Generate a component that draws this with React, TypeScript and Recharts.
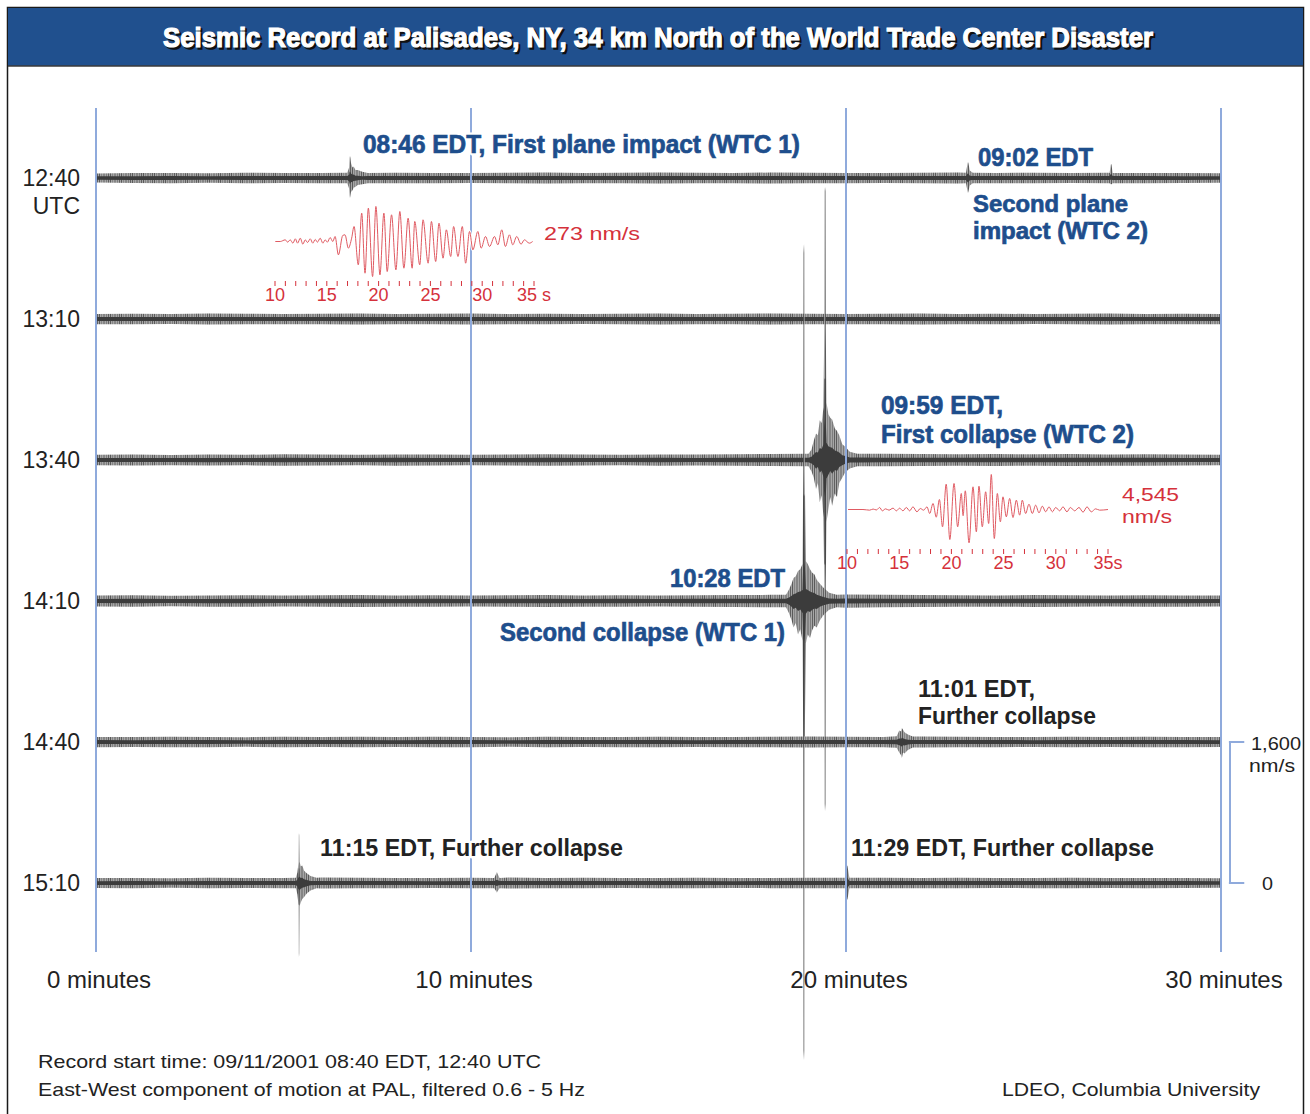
import React from "react";
import { ComposedChart, Area, XAxis, YAxis, ReferenceLine, LineChart, Line } from "recharts";

// one row per 30 minutes of record, top to bottom (UTC start time)
const TRACE_LABELS = ["12:40", "13:10", "13:40", "14:10", "14:40", "15:10"];
const TRACE_SPACING = 1600; // nm/s between rows, same as the scale bar
const MINUTE_TICKS = [0, 10, 20, 30];
const SCALE_BAR = [0, 1600];
const SEC_TICKS = [10, 11, 12, 13, 14, 15, 16, 17, 18, 19, 20, 21, 22, 23, 24, 25, 26, 27, 28, 29, 30, 31, 32, 33, 34, 35];

// background noise half width (nm/s) read at each whole minute 0..30
const NOISE_1240 = [52, 56, 58, 55, 60, 57, 58, 62, 60, 58, 57, 60, 62, 58, 60, 63, 60, 58, 62, 60, 58, 56, 60, 62, 58, 60, 57, 60, 58, 56, 55];
const NOISE_1310 = [58, 60, 57, 62, 60, 58, 60, 63, 58, 60, 62, 58, 60, 57, 60, 62, 58, 60, 63, 60, 58, 60, 62, 58, 60, 57, 60, 62, 58, 60, 58];
const NOISE_1340 = [60, 62, 58, 63, 60, 65, 62, 60, 64, 62, 60, 63, 65, 62, 60, 64, 62, 65, 68, 70, 72, 70, 68, 66, 68, 65, 67, 64, 66, 62, 60];
const NOISE_1410 = [62, 65, 60, 64, 66, 62, 65, 68, 64, 66, 63, 65, 67, 64, 66, 62, 65, 68, 70, 72, 75, 70, 68, 66, 64, 67, 65, 63, 66, 64, 62];
const NOISE_1440 = [58, 56, 60, 58, 55, 60, 57, 59, 56, 60, 58, 55, 60, 57, 58, 60, 56, 58, 60, 62, 60, 58, 62, 60, 58, 56, 59, 57, 60, 58, 56];
const NOISE_1510 = [56, 58, 55, 60, 57, 58, 62, 60, 58, 56, 60, 62, 58, 60, 57, 58, 60, 56, 58, 60, 62, 60, 58, 60, 57, 58, 60, 56, 58, 57, 55];

type Ev = [number, number, number]; // [minute, low, high] in nm/s around the row baseline

const EVENTS_1240: Ev[][] = [
  [[6.7, -60, 60], [6.75, -120, 120], [6.762, -200, 230], [6.773, -227, 250], [6.784, -200, 230], [6.8, -160, 170], [6.84, -140, 120], [6.87, -110, 130], [6.92, -100, 90], [6.98, -80, 90], [7.1, -70, 70], [7.25, -58, 58]],
  [[23.2, -60, 60], [23.24, -150, 165], [23.253, -170, 182], [23.266, -150, 165], [23.3, -85, 85], [23.38, -60, 60]],
  [[27.03, -58, 58], [27.06, -70, 150], [27.07, -70, 160], [27.08, -70, 150], [27.11, -58, 58]],
];
const EVENTS_1310: Ev[][] = [];
const EVENTS_1340: Ev[][] = [
  [[19.0, -70, 70], [19.08, -130, 120], [19.14, -200, 220], [19.2, -330, 300], [19.25, -260, 280], [19.3, -480, 450], [19.35, -400, 420], [19.4, -650, 600], [19.42, -1400, 1500], [19.427, -3900, 3050], [19.44, -3983, 3098], [19.453, -3900, 3050], [19.46, -1400, 1500], [19.48, -700, 650], [19.53, -560, 520], [19.58, -420, 480], [19.63, -520, 460], [19.7, -380, 360], [19.76, -420, 330], [19.82, -260, 280], [19.9, -200, 180], [19.98, -140, 150], [20.1, -95, 95], [20.3, -72, 72]],
];
const EVENTS_1410: Ev[][] = [
  [[18.4, -70, 70], [18.48, -140, 130], [18.55, -220, 200], [18.6, -300, 260], [18.66, -250, 280], [18.72, -380, 340], [18.78, -320, 360], [18.84, -450, 420], [18.86, -1532, 1464], [18.867, -5100, 3950], [18.88, -5210, 4050], [18.893, -5100, 3950], [18.9, -1532, 1464], [18.93, -480, 450], [18.98, -380, 420], [19.04, -420, 360], [19.1, -330, 320], [19.16, -280, 300], [19.22, -300, 240], [19.3, -220, 200], [19.4, -160, 150], [19.55, -100, 95], [19.75, -72, 70]],
];
const EVENTS_1440: Ev[][] = [
  [[21.35, -65, 65], [21.42, -120, 130], [21.47, -150, 120], [21.49, -180, 160], [21.52, -120, 140], [21.56, -130, 110], [21.65, -90, 85], [21.78, -62, 62]],
];
const EVENTS_1510: Ev[][] = [
  [[5.33, -60, 60], [5.37, -130, 120], [5.4, -250, 230], [5.407, -800, 540], [5.413, -840, 567], [5.42, -800, 540], [5.43, -260, 240], [5.46, -220, 190], [5.5, -180, 200], [5.55, -160, 140], [5.62, -120, 110], [5.72, -85, 80], [5.88, -60, 60]],
  [[10.62, -58, 58], [10.68, -100, 115], [10.69, -110, 125], [10.7, -100, 115], [10.76, -58, 58]],
  [[19.97, -60, 60], [20.02, -180, 190], [20.03, -190, 200], [20.04, -180, 190], [20.09, -60, 60]],
];

// zoomed waveforms, [seconds, nm/s]
const INSET_WTC1: [number, number][] = [
  [10.03, 0], [10.51, 0], [10.99, 13], [11.22, -5], [11.47, 13], [11.73, -13], [11.96, 21], [12.18, -13], [12.44, 26], [12.69, -21],
  [12.92, 13], [13.14, -8], [13.4, 21], [13.65, -13], [13.88, 16], [14.1, -5], [14.36, 26], [14.62, -13], [14.84, 13], [15.06, -5],
  [15.32, 31], [15.58, 0], [15.8, 39], [16.12, -104], [16.54, 47], [16.76, 52], [17.08, -52], [17.4, 26], [17.63, 117], [18.04, -182],
  [18.37, 221], [18.69, -247], [19.01, 260], [19.42, -273], [19.74, 273], [20.13, -260], [20.51, 221], [20.83, -234], [21.25, 208],
  [21.67, -221], [22.05, 234], [22.44, -208], [22.85, 182], [23.24, -208], [23.49, 156], [23.97, -182], [24.29, 169], [24.78, -169],
  [25.1, 156], [25.51, -156], [25.83, 143], [26.22, -130], [26.54, 91], [26.96, -117], [27.24, 117], [27.66, -117], [28.08, 117],
  [28.4, -169], [28.78, 78], [29.1, -65], [29.58, 78], [29.9, -52], [30.32, 39], [30.71, -39], [31.19, 39], [31.51, -26], [31.89, 91],
  [32.24, -39], [32.63, 52], [32.95, -26], [33.33, 39], [33.75, -21], [34.07, 13], [34.55, -13], [34.87, 0],
];
const INSET_WTC2: [number, number][] = [
  [10.1, 0], [11.53, 0], [12.17, -87], [12.5, 60], [12.81, -60], [13.13, 260], [13.38, -173], [13.7, 87], [14.02, -87], [14.41, 173],
  [14.73, -173], [15.04, 173], [15.36, -173], [15.68, 260], [16.0, -173], [16.32, 346], [16.7, -303], [17.02, 130], [17.34, -87],
  [17.66, 346], [17.92, -520], [18.24, 780], [18.55, -1000], [18.85, 1299], [19.15, -2252], [19.5, 3291], [19.85, -3897], [20.25, 3377],
  [20.6, -2252], [20.95, 2079], [21.12, -800], [21.33, 2425], [21.69, -4330], [22.07, 2945], [22.39, -2901], [22.64, 3031], [22.96, -2252],
  [23.28, 2303], [23.57, -1819], [23.82, 4545], [24.11, -3767], [24.4, 2079], [24.69, -1602], [24.94, 1645], [25.26, -953], [25.58, 1429],
  [25.9, -1039], [26.22, 1212], [26.54, -736], [26.79, 1212], [27.11, -520], [27.43, 693], [27.75, -520], [28.07, 563], [28.39, -433],
  [28.71, 433], [29.03, -303], [29.35, 346], [29.67, -303], [29.99, 260], [30.37, -173], [30.69, 346], [31.07, -303], [31.39, 260],
  [31.81, -173], [32.22, 260], [32.61, -346], [32.99, 346], [33.4, -303], [33.82, 87], [34.2, -87], [35.0, 0],
];

const FONT = '"Liberation Sans", Arial, Helvetica, sans-serif';
const BLUE = "#1E4E8C";
const RED = "#D5313B";
const WAVE = "#E05A62";
const GRID = "#8FAADC";
const INK = "#222";
const CORE_NOISE = 0.38;
const CORE_EVENT = 0.3;

const TRACES = [
  { noise: NOISE_1240, events: EVENTS_1240 },
  { noise: NOISE_1310, events: EVENTS_1310 },
  { noise: NOISE_1340, events: EVENTS_1340 },
  { noise: NOISE_1410, events: EVENTS_1410 },
  { noise: NOISE_1440, events: EVENTS_1440 },
  { noise: NOISE_1510, events: EVENTS_1510 },
];

function buildTrace(noise: number[], groups: Ev[][], offset: number, kNoise: number, kEvent: number) {
  const pts: { t: number; lo: number; hi: number; k: number }[] = [];
  noise.forEach((a, m) => {
    if (groups.some((g) => m >= g[0][0] && m <= g[g.length - 1][0])) return;
    pts.push({ t: m, lo: -a, hi: a, k: kNoise });
  });
  groups.forEach((g) =>
    g.forEach(([t, lo, hi], j) => {
      // the first and last point of a group sit on the noise, keep them matched
      const k = j === 0 || j === g.length - 1 ? kNoise : kEvent;
      pts.push({ t, lo, hi, k });
    })
  );
  pts.sort((p, q) => p.t - q.t);
  return pts.map(({ t, lo, hi, k }) => ({ t, v: [offset + lo * k, offset + hi * k] }));
}

const TraceTick = ({ y, payload }: any) => {
  const idx = TRACE_LABELS.length - 1 - Math.round(payload.value / TRACE_SPACING);
  return (
    <g>
      <text x={80} y={y + 8} textAnchor="end" fontSize={23} fill={INK} fontFamily={FONT}>
        {TRACE_LABELS[idx]}
      </text>
      {idx === 0 && (
        <text x={80} y={y + 36} textAnchor="end" fontSize={23} fill={INK} fontFamily={FONT}>
          UTC
        </text>
      )}
    </g>
  );
};

const SecTick = ({ x, y, payload, suffix }: any) => {
  const t = payload.value;
  return (
    <g>
      <line x1={x} x2={x} y1={y + 1} y2={y + 6} stroke={RED} strokeWidth={1} />
      {t % 5 === 0 && (
        <text x={x} y={y + 21} textAnchor="middle" fontSize={18} fill={RED} fontFamily={FONT}>
          {t === 35 ? `35${suffix}` : t}
        </text>
      )}
    </g>
  );
};

function Inset({ data, left, top, width, domain, suffix }: any) {
  const rows = data.map(([t, v]: [number, number]) => ({ t, v }));
  return (
    <div style={{ position: "absolute", left, top }}>
      <LineChart width={width} height={107} data={rows} margin={{ top: 0, right: 30, bottom: 0, left: 20 }}>
        <XAxis
          type="number"
          dataKey="t"
          domain={[10, 35]}
          ticks={SEC_TICKS}
          interval={0}
          height={30}
          axisLine={false}
          tickLine={false}
          tickSize={0}
          tickMargin={0}
          tick={(p: any) => <SecTick {...p} suffix={suffix} />}
        />
        <YAxis hide domain={domain} allowDataOverflow />
        <Line type="monotone" dataKey="v" stroke="#fff" strokeWidth={3} dot={false} activeDot={false} isAnimationActive={false} />
        <Line type="monotone" dataKey="v" stroke={WAVE} strokeWidth={1} dot={false} activeDot={false} isAnimationActive={false} />
      </LineChart>
    </div>
  );
}

type Tx = { s: string; x: number; y: number; w: number; size: number; color: string; bold?: boolean; halo?: boolean; heavy?: boolean };

const TEXTS: Tx[] = [
  { s: "08:46 EDT, First plane impact (WTC 1)", x: 363, y: 153, w: 437, size: 26, color: BLUE, bold: true, halo: true, heavy: true },
  { s: "09:02 EDT", x: 978, y: 166, w: 115, size: 26, color: BLUE, bold: true, halo: true, heavy: true },
  { s: "Second plane", x: 973, y: 212, w: 155, size: 24, color: BLUE, bold: true, halo: true, heavy: true },
  { s: "impact (WTC 2)", x: 973, y: 239, w: 175, size: 24, color: BLUE, bold: true, halo: true, heavy: true },
  { s: "09:59 EDT,", x: 881, y: 414, w: 122, size: 26, color: BLUE, bold: true, halo: true, heavy: true },
  { s: "First collapse (WTC 2)", x: 881, y: 443, w: 253, size: 26, color: BLUE, bold: true, halo: true, heavy: true },
  { s: "10:28 EDT", x: 670, y: 587, w: 115, size: 26, color: BLUE, bold: true, halo: true, heavy: true },
  { s: "Second collapse (WTC 1)", x: 500, y: 641, w: 285, size: 26, color: BLUE, bold: true, halo: true, heavy: true },
  { s: "11:01 EDT,", x: 918, y: 697, w: 117, size: 23, color: INK, bold: true, halo: true },
  { s: "Further collapse", x: 918, y: 724, w: 178, size: 23, color: INK, bold: true, halo: true },
  { s: "11:15 EDT, Further collapse", x: 320, y: 856, w: 303, size: 23, color: INK, bold: true, halo: true },
  { s: "11:29 EDT, Further collapse", x: 851, y: 856, w: 303, size: 23, color: INK, bold: true, halo: true },
  { s: "273 nm/s", x: 544, y: 240, w: 96, size: 19, color: RED },
  { s: "4,545", x: 1122, y: 501, w: 57, size: 19, color: RED },
  { s: "nm/s", x: 1122, y: 523, w: 50, size: 19, color: RED },
  { s: "1,600", x: 1251, y: 750, w: 50, size: 18, color: INK },
  { s: "nm/s", x: 1249, y: 772, w: 46, size: 18, color: INK },
  { s: "0", x: 1262, y: 890, w: 11, size: 18, color: INK },
  { s: "Record start time: 09/11/2001 08:40 EDT, 12:40 UTC", x: 38, y: 1068, w: 503, size: 19, color: INK },
  { s: "East-West component of motion at PAL, filtered 0.6 - 5 Hz", x: 38, y: 1096, w: 547, size: 19, color: INK },
  { s: "LDEO, Columbia University", x: 1002, y: 1096, w: 258, size: 19, color: INK },
];

const TITLE = "Seismic Record at Palisades, NY, 34 km North of the World Trade Center Disaster";

export default function App() {
  const n = TRACE_LABELS.length;
  const series = TRACES.map((tr, i) => {
    const offset = (n - 1 - i) * TRACE_SPACING;
    return {
      outer: buildTrace(tr.noise, tr.events, offset, 1, 1),
      core: buildTrace(tr.noise, tr.events, offset, CORE_NOISE, CORE_EVENT),
    };
  });
  const rowTicks = TRACE_LABELS.map((_, i) => (n - 1 - i) * TRACE_SPACING);

  return (
    <div style={{ position: "absolute", left: 0, top: 0, width: 1310, height: 1114, background: "#fff", overflow: "hidden" }}>
      <div style={{ position: "absolute", left: 0, top: 0 }}>
        <ComposedChart width={1310} height={1114} margin={{ top: 0, right: 0, bottom: 0, left: 0 }}>
          <defs>
            <pattern id="fuzz" width="11" height="4" patternUnits="userSpaceOnUse">
              <rect width="11" height="4" fill="#a6a6a6" />
              <rect x="0" width="1" height="4" fill="#5a5a5a" />
              <rect x="2" width="1" height="4" fill="#858585" />
              <rect x="4.5" width="1" height="4" fill="#656565" />
              <rect x="7" width="1" height="4" fill="#7c7c7c" />
              <rect x="9" width="1" height="4" fill="#606060" />
            </pattern>
          </defs>
          <XAxis type="number" dataKey="t" domain={[0, 32.373]} hide allowDataOverflow />
          <YAxis
            type="number"
            domain={[-2621, 10020]}
            allowDataOverflow
            ticks={rowTicks}
            interval={0}
            width={96}
            axisLine={false}
            tickLine={false}
            tick={(p: any) => <TraceTick {...p} />}
          />
          {MINUTE_TICKS.map((m) => (
            <ReferenceLine
              key={m}
              segment={[{ x: m, y: -783 }, { x: m, y: 8794 }]}
              stroke={GRID}
              strokeWidth={2}
              label={(p: any) => (
                <text x={(p.viewBox?.x ?? 0) + 3} y={988} textAnchor="middle" fontSize={24} fill={INK} fontFamily={FONT}>
                  {`${m} minutes`}
                </text>
              )}
            />
          ))}
          {series.map((s, i) => [
            <Area
              key={`o${i}`}
              data={s.outer}
              dataKey="v"
              type="linear"
              stroke="none"
              fill="url(#fuzz)"
              fillOpacity={1}
              dot={false}
              activeDot={false}
              isAnimationActive={false}
            />,
            <Area
              key={`c${i}`}
              data={s.core}
              dataKey="v"
              type="linear"
              stroke="none"
              fill="#3c3c3c"
              fillOpacity={1}
              dot={false}
              activeDot={false}
              isAnimationActive={false}
            />,
          ])}
          <ReferenceLine segment={[{ x: 30.24, y: SCALE_BAR[0] }, { x: 30.24, y: SCALE_BAR[1] }]} stroke={GRID} strokeWidth={2} />
          {SCALE_BAR.map((v) => (
            <ReferenceLine key={v} segment={[{ x: 30.21, y: v }, { x: 30.62, y: v }]} stroke={GRID} strokeWidth={2} />
          ))}
        </ComposedChart>
      </div>

      <Inset data={INSET_WTC1} left={255} top={202.5} width={309} domain={[-300, 300]} suffix=" s" />
      <Inset data={INSET_WTC2} left={827} top={470.5} width={311} domain={[-5000, 5000]} suffix="s" />

      <svg width={1310} height={1114} style={{ position: "absolute", left: 0, top: 0, pointerEvents: "none" }}>
        <rect x={7.5} y={7.5} width={1296} height={1140} fill="none" stroke="#1a1a1a" strokeWidth={1.5} />
        <rect x={8} y={8} width={1295} height={58} fill="#20508E" />
        <line x1={8} x2={1303} y1={66} y2={66} stroke="#3a3a3a" strokeWidth={1.5} />
        <text x={165} y={49} textLength={990} lengthAdjust="spacingAndGlyphs" fontSize={28} fontWeight={900} fill="#111" stroke="#111" strokeWidth={1.4} fontFamily={FONT}>
          {TITLE}
        </text>
        <text x={163} y={47} textLength={990} lengthAdjust="spacingAndGlyphs" fontSize={28} fontWeight={900} fill="#fff" stroke="#fff" strokeWidth={1.2} fontFamily={FONT}>
          {TITLE}
        </text>
        {TEXTS.map((t, i) => (
          <g key={i}>
            {t.halo && (
              <text x={t.x} y={t.y} textLength={t.w} lengthAdjust="spacingAndGlyphs" fontSize={t.size} fontWeight={700} fill="#fff" stroke="#fff" strokeWidth={5} strokeLinejoin="round" fontFamily={FONT}>
                {t.s}
              </text>
            )}
            <text
              x={t.x}
              y={t.y}
              textLength={t.w}
              lengthAdjust="spacingAndGlyphs"
              fontSize={t.size}
              fontWeight={t.bold ? 700 : 400}
              fill={t.color}
              stroke={t.heavy ? t.color : "none"}
              strokeWidth={t.heavy ? 0.7 : 0}
              fontFamily={FONT}
            >
              {t.s}
            </text>
          </g>
        ))}
      </svg>
    </div>
  );
}
